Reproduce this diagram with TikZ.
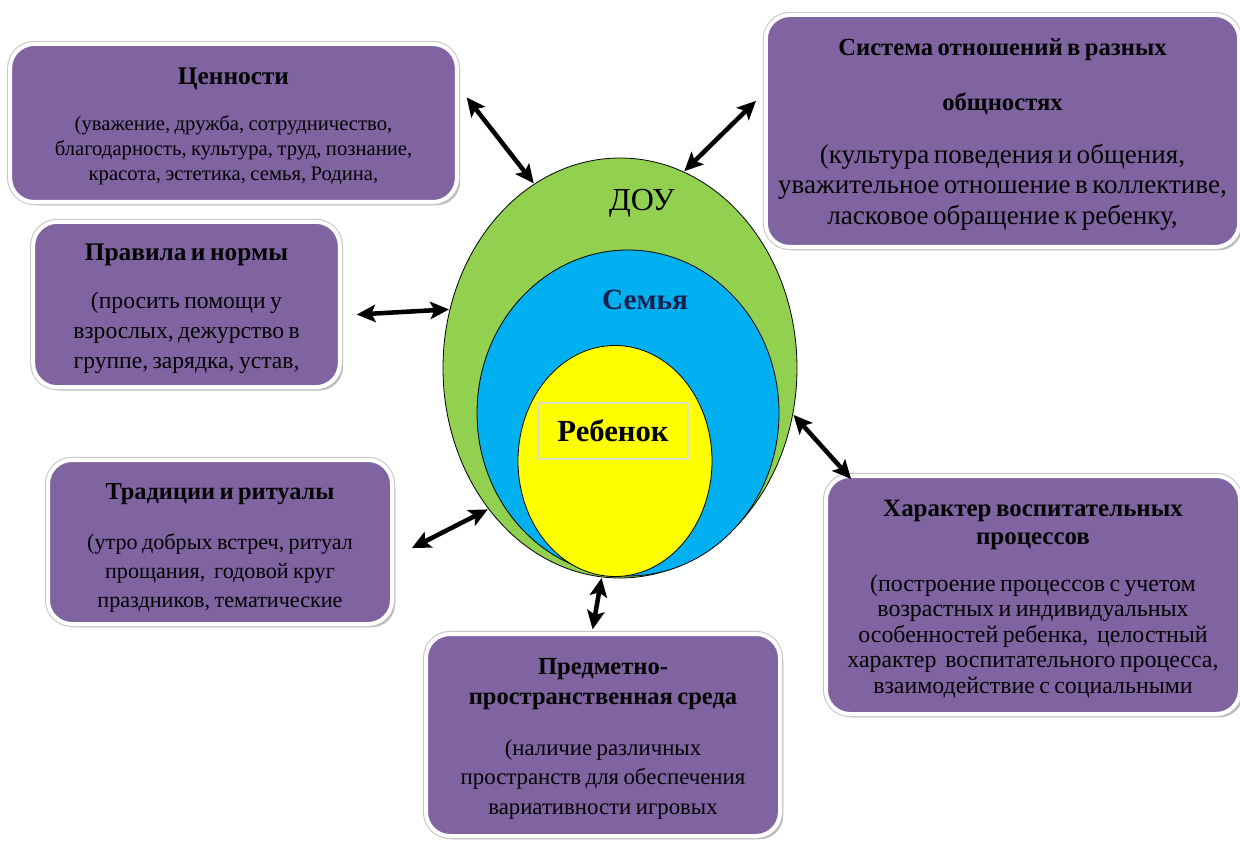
\documentclass[tikz,border=0pt]{standalone}
\usepackage{fontspec}
\setmainfont{Liberation Serif}
\usetikzlibrary{shapes.geometric,shadows,arrows.meta}
\definecolor{boxpurple}{RGB}{128,100,162}
\definecolor{douGreen}{RGB}{146,208,80}
\definecolor{semBlue}{RGB}{0,176,240}
\definecolor{rebYellow}{RGB}{255,255,0}
\definecolor{semText}{RGB}{22,32,78}
\definecolor{paleFrame}{RGB}{222,222,196}
\tikzset{
  infobox/.style={rounded corners=18pt, fill=boxpurple, draw=white, line width=3pt,
    drop shadow={shadow xshift=2.5pt, shadow yshift=-2.5pt, fill=black!50, opacity=0.55},
    preaction={draw=black!22, line width=4.6pt},
    align=center, inner sep=4pt, text=black},
  circ/.style={ellipse, draw=black, line width=0.6pt, inner sep=0pt},
  dbl/.style={<->, >={Stealth[length=14pt,width=13pt,inset=3pt]}, line width=3.4pt, black},
}
\begin{document}
\begin{tikzpicture}[x=0.75pt,y=-0.75pt]
\useasboundingbox (0,0) rectangle (1240,845);

\node[circ, fill=douGreen, minimum width=265.5pt, minimum height=315pt] (dou) at (620,368) {};
\node[circ, fill=semBlue, minimum width=226.5pt, minimum height=244.5pt] (sem) at (628,413) {};
\node[circ, fill=rebYellow, minimum width=145.5pt, minimum height=173.25pt] (reb) at (615,461) {};

\node[font=\fontsize{24}{28}\selectfont] (douLbl) at (642,203) {ДОУ};
\node[font=\fontsize{22}{26}\selectfont\bfseries, text=semText] (semLbl) at (645,300) {Семья};
\node[draw=paleFrame, line width=0.8pt, minimum width=112.5pt, minimum height=42pt,
  font=\fontsize{23}{27}\selectfont\bfseries] (rebLbl) at (613,431) {Ребенок};

\node[infobox, minimum width=335pt, minimum height=118.5pt, text width=325pt] (cen) at (233.5,123)
  {{\fontsize{19}{23}\selectfont\bfseries Ценности\par}\vspace{16pt}
   \fontsize{15.5}{18.75}\selectfont (уважение, дружба, сотрудничество,\\
   благодарность, культура, труд, познание,\\ красота, эстетика, семья, Родина,\par\vspace{-5pt}};

\node[infobox, minimum width=355pt, minimum height=174pt, text width=345pt] (sys) at (1002.5,131)
  {{\fontsize{18.5}{22}\selectfont\bfseries Система отношений в разных\\[19pt] общностях\par}\vspace{17pt}
   \fontsize{20.3}{22.8}\selectfont (культура поведения и общения,\\
   уважительное отношение в коллективе,\\ ласковое обращение к ребенку,\par\vspace{-5pt}};

\node[infobox, minimum width=230pt, minimum height=124pt, text width=220pt] (prav) at (186.5,304.5)
  {{\fontsize{19}{23}\selectfont\bfseries Правила и нормы\par}\vspace{13.5pt}
   \fontsize{17.7}{22.5}\selectfont (просить помощи у\\ взрослых, дежурство в\\ группе, зарядка, устав,\par\vspace{-6pt}};

\node[infobox, minimum width=258pt, minimum height=123pt, text width=248pt] (trad) at (220,542)
  {{\fontsize{18.3}{22}\selectfont\bfseries Традиции и ритуалы\par}\vspace{15.7pt}
   \fontsize{16.6}{21.75}\selectfont (утро добрых встреч, ритуал\\ прощания,\ \ годовой круг\\
   праздников, тематические\par\vspace{-9pt}};

\node[infobox, minimum width=310.5pt, minimum height=178.5pt, text width=302pt] (har) at (1033,595)
  {{\fontsize{18.7}{21}\selectfont\bfseries Характер воспитательных\\ процессов\par}\vspace{16pt}
   \fontsize{17.9}{19.1}\selectfont (построение процессов с учетом\\ возрастных и индивидуальных\\
   особенностей ребенка,\ \ целостный\\ характер\ \ воспитательного процесса,\\
   взаимодействие с социальными\par\vspace{-6pt}};

\node[infobox, minimum width=265.5pt, minimum height=151.5pt, text width=257pt] (pred) at (603,735)
  {{\fontsize{18.4}{22.5}\selectfont\bfseries Предметно-\\ пространственная среда\par}\vspace{16pt}
   \fontsize{17.1}{22}\selectfont (наличие различных\\ пространств для обеспечения\\
   вариативности игровых\par\vspace{-6pt}};

\draw[dbl, shorten <=9.6pt, shorten >=0.5pt] (cen.9) -- (dou.115);
\draw[dbl, shorten <=8.2pt, shorten >=0.5pt] (sys.171.5) -- (dou.72);
\draw[dbl, shorten <=11.2pt, shorten >=0.5pt] (prav.-4.6) -- (dou.161.6);
\draw[dbl, shorten <=15pt, shorten >=0.5pt] (trad.-5) -- (dou.227);
\draw[dbl, shorten <=-5pt, shorten >=0.5pt] (har.147.4) -- (dou.-15.4);
\draw[dbl, shorten <=2pt, shorten >=0.5pt] (pred.96) -- (dou.-95.6);
\end{tikzpicture}
\end{document}
